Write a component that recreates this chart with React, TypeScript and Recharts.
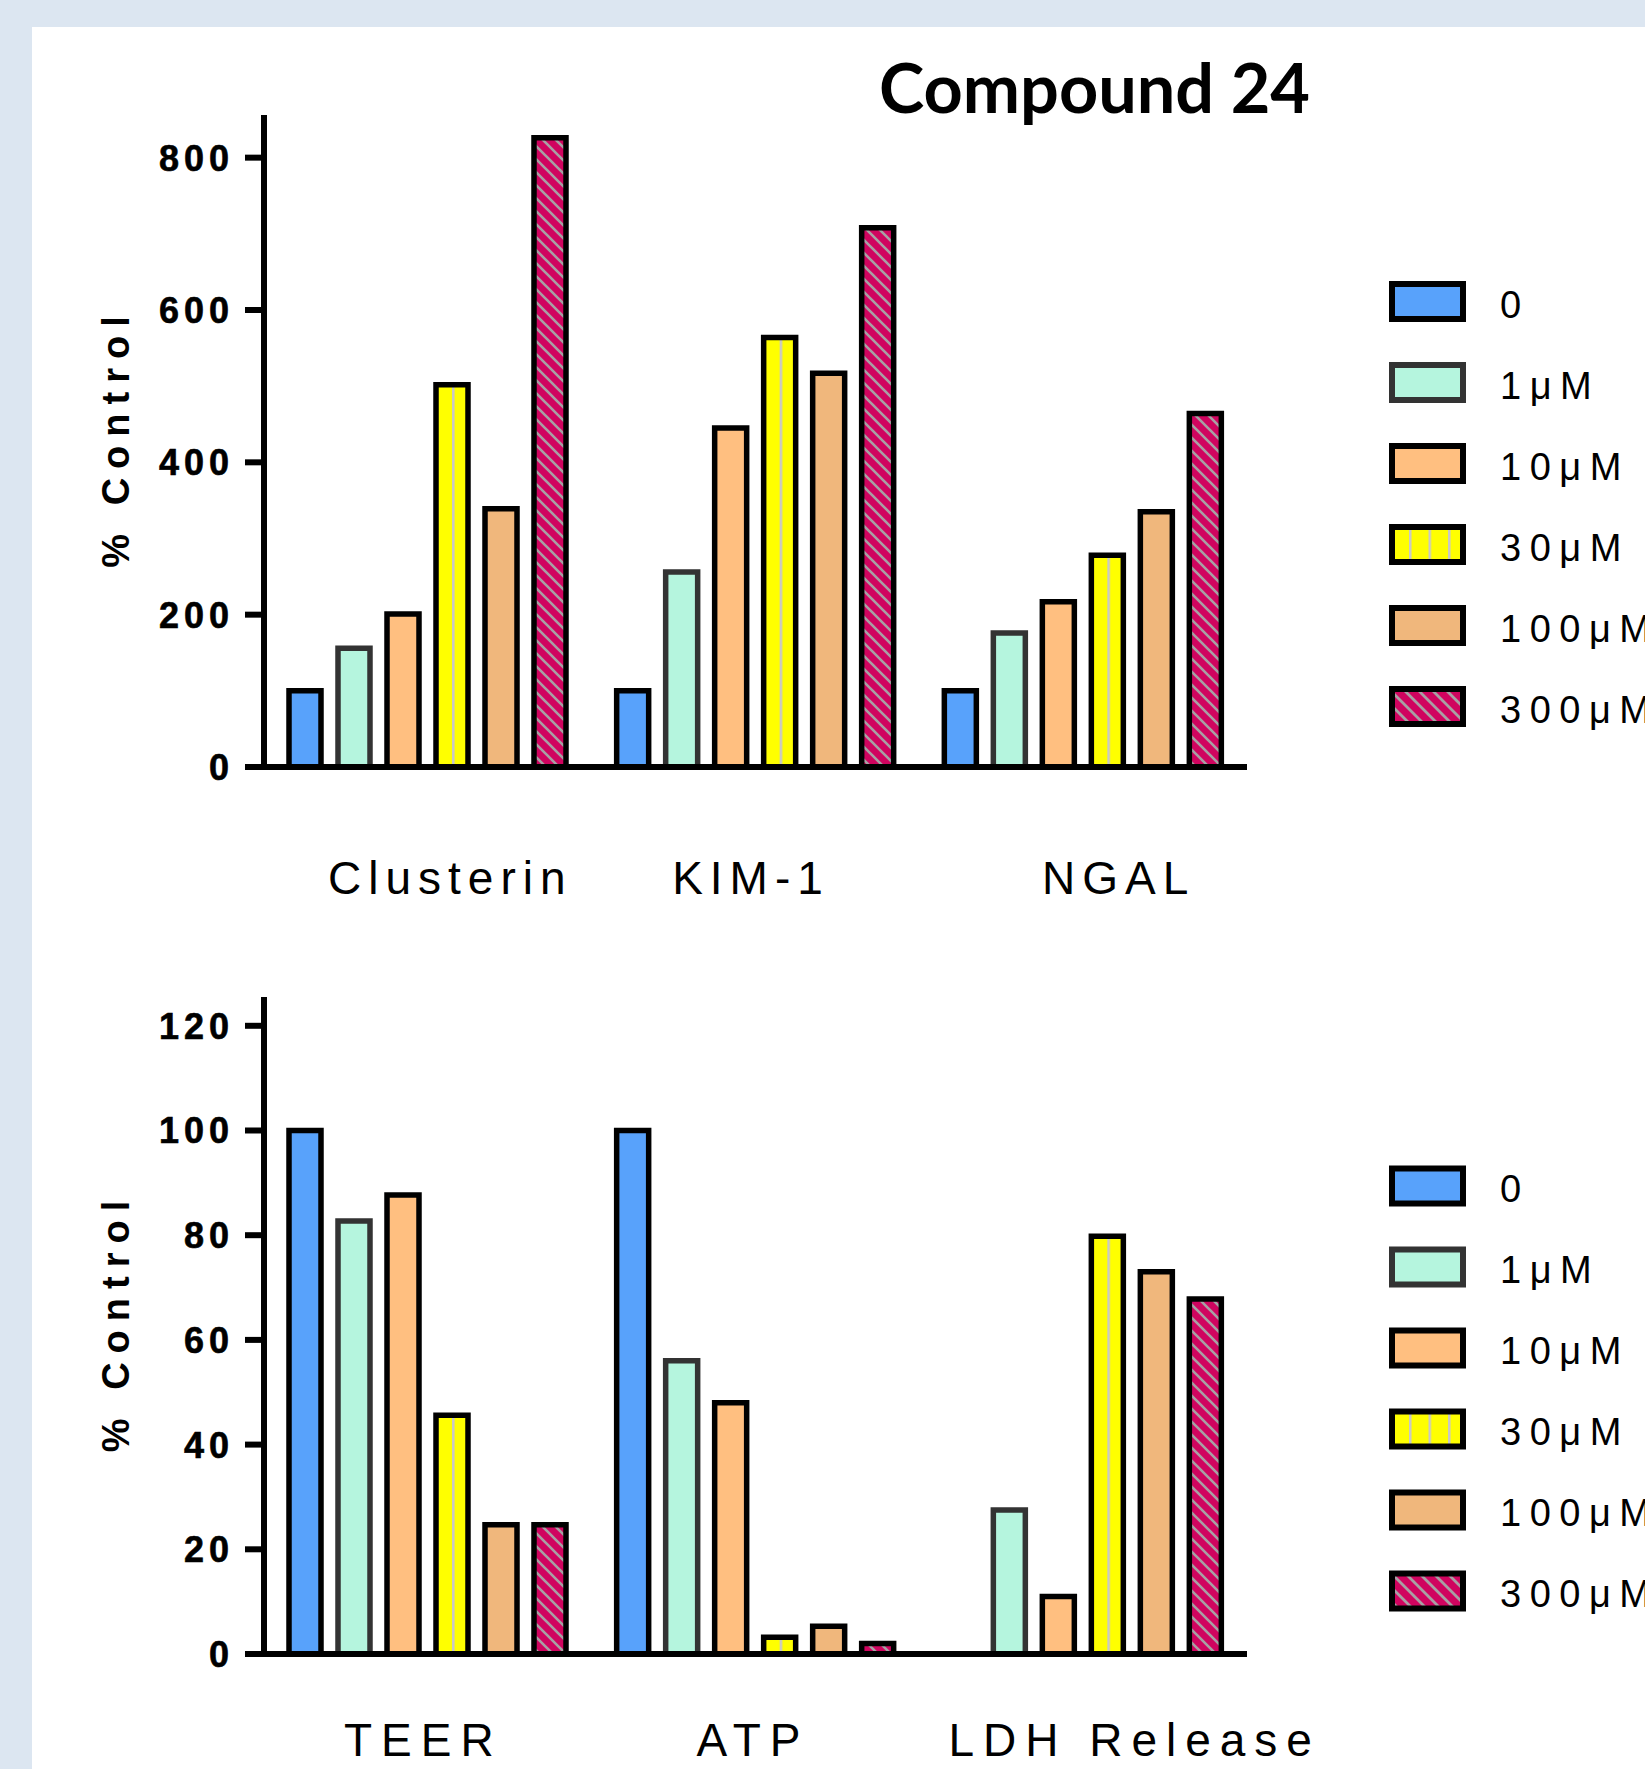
import React from "react";
import { BarChart, Bar, XAxis, YAxis } from "recharts";

// ---------- data ----------
const topCategories = ["Clusterin", "KIM-1", "NGAL"];
const bottomCategories = ["TEER", "ATP", "LDH Release"];
const doseLabels = ["0", "1\u03BCM", "10\u03BCM", "30\u03BCM", "100\u03BCM", "300\u03BCM"];
const doseKeys = ["d0", "d1", "d10", "d30", "d100", "d300"];

const top0 = [100, 100, 100];
const top1 = [156, 256, 176];
const top10 = [201, 445, 217];
const top30 = [502, 564, 278];
const top100 = [339, 517, 335];
const top300 = [826, 708, 464];

const bot0 = [100, 100, null];
const bot1 = [82.7, 56, 27.5];
const bot10 = [87.7, 48, 11];
const bot30 = [45.6, 3.2, 79.8];
const bot100 = [24.7, 5.3, 73];
const bot300 = [24.7, 2, 67.8];

const topTicks = [0, 200, 400, 600, 800];
const bottomTicks = [0, 20, 40, 60, 80, 100, 120];

const title = "Compound 24";
const yTitle = "% Control";

// ---------- build rows ----------
const buildRows = (cats: string[], series: (number | null)[][]) =>
  cats.map((c, i) => {
    const row: any = { cat: c };
    doseKeys.forEach((k, j) => {
      row[k] = series[j][i];
    });
    return row;
  });

const topData = buildRows(topCategories, [top0, top1, top10, top30, top100, top300]);
const bottomData = buildRows(bottomCategories, [bot0, bot1, bot10, bot30, bot100, bot300]);

// ---------- styles ----------
const seriesStyle = [
  { fill: "#58A2FB", stroke: "#000000", legendFill: "#58A2FB" },
  { fill: "#B5F5DE", stroke: "#333333", legendFill: "#B5F5DE" },
  { fill: "#FFBF80", stroke: "#000000", legendFill: "#FFBF80" },
  { fill: "url(#vstripeBar)", stroke: "#000000", legendFill: "url(#vstripeLegend)" },
  { fill: "#F0B77C", stroke: "#000000", legendFill: "#F0B77C" },
  { fill: "url(#dstripeBar)", stroke: "#000000", legendFill: "url(#dstripeLegend)" },
];

const SANS = "'Liberation Sans', Arial, sans-serif";

// label nudges (layout only)
const labelNudge: Record<string, number> = {
  Clusterin: 19,
  "KIM-1": -8,
  NGAL: 32,
  TEER: -9,
  ATP: -7,
  "LDH Release": 47,
};

const YTick = (props: any) => {
  const { x, y, payload } = props;
  const ls = 5;
  return (
    <text
      x={x + ls}
      y={y + 13}
      textAnchor="end"
      fontFamily={SANS}
      fontWeight="bold"
      fontSize={36}
      letterSpacing={ls}
      fill="#000"
      stroke="#000"
      strokeWidth={0.6}
    >
      {payload.value}
    </text>
  );
};

const makeXTick = (baseline: number, ls: number) => (props: any) => {
  const { x, y, payload } = props;
  const nudge = labelNudge[payload.value] || 0;
  return (
    <text
      x={x + nudge + ls / 2}
      y={y + baseline}
      textAnchor="middle"
      fontFamily={SANS}
      fontSize={46}
      letterSpacing={ls}
      fill="#000"
    >
      {payload.value}
    </text>
  );
};

const makeYLabel = () => (props: any) => {
  const vb = props.viewBox || { x: 114, y: 0, width: 150, height: 0 };
  const cx = (vb.x ?? 114) + 1;
  const cy = (vb.y ?? 0) + (vb.height ?? 0) / 2 + 1;
  return (
    <text
      transform={`translate(${cx},${cy}) rotate(-90)`}
      x={4.5}
      y={14}
      textAnchor="middle"
      fontFamily={SANS}
      fontWeight="bold"
      fontSize={38}
      letterSpacing={9}
      fill="#000"
    >
      {yTitle}
    </text>
  );
};

type PanelProps = {
  data: any[];
  domainMax: number;
  ticks: number[];
  top: number;
  height: number;
  marginTop: number;
  xAxisHeight: number;
  labelBaseline: number;
  labelSpacing: number;
};

const Panel = ({ data, domainMax, ticks, top, height, marginTop, xAxisHeight, labelBaseline, labelSpacing }: PanelProps) => (
  <div style={{ position: "absolute", left: 0, top }}>
    <BarChart
      width={1645}
      height={height}
      data={data}
      margin={{ top: marginTop, right: 398, left: 114, bottom: 0 }}
      barSize={32}
      barGap={17}
    >
      <XAxis
        dataKey="cat"
        type="category"
        interval={0}
        height={xAxisHeight}
        axisLine={{ stroke: "#000", strokeWidth: 6 }}
        tickLine={false}
        tickSize={0}
        tickMargin={0}
        tick={makeXTick(labelBaseline, labelSpacing)}
      />
      <YAxis
        type="number"
        domain={[0, domainMax]}
        ticks={ticks}
        interval={0}
        width={150}
        axisLine={{ stroke: "#000", strokeWidth: 6 }}
        tickLine={{ stroke: "#000", strokeWidth: 6 }}
        tickSize={19}
        tickMargin={16}
        tick={YTick}
        label={makeYLabel()}
      />
      {doseKeys.map((k, i) => (
        <Bar
          key={k}
          dataKey={k}
          name={doseLabels[i]}
          fill={seriesStyle[i].fill}
          stroke={seriesStyle[i].stroke}
          strokeWidth={5.5}
          isAnimationActive={false}
        />
      ))}
    </BarChart>
  </div>
);

const LegendBlock = ({ y0 }: { y0: number }) => (
  <g>
    {doseLabels.map((lab, i) => {
      const cy = y0 + i * 81;
      return (
        <g key={lab}>
          <rect
            x={1392}
            y={cy - 17.5}
            width={71}
            height={35}
            fill={seriesStyle[i].legendFill}
            stroke={seriesStyle[i].stroke}
            strokeWidth={6}
          />
          <text x={1500} y={cy + 16} fontFamily={SANS} fontSize={38} letterSpacing={8.5} fill="#000">
            {lab}
          </text>
        </g>
      );
    })}
  </g>
);

export default function App() {
  return (
    <div
      style={{
        position: "absolute",
        left: 0,
        top: 0,
        width: 1645,
        height: 1769,
        background: "#DCE6F1",
        overflow: "hidden",
      }}
    >
      <div style={{ position: "absolute", left: 32, top: 27, right: 0, bottom: 0, background: "#FFFFFF" }} />
      <Panel
        data={topData}
        domainMax={856}
        ticks={topTicks}
        top={0}
        height={940}
        marginTop={115}
        xAxisHeight={173}
        labelBaseline={127}
        labelSpacing={7}
      />
      <Panel
        data={bottomData}
        domainMax={125.5}
        ticks={bottomTicks}
        top={880}
        height={889}
        marginTop={117}
        xAxisHeight={115}
        labelBaseline={102}
        labelSpacing={9}
      />
      <svg
        width={1645}
        height={1769}
        style={{ position: "absolute", left: 0, top: 0, pointerEvents: "none" }}
      >
        <defs>
          <pattern id="vstripeBar" patternUnits="objectBoundingBox" patternContentUnits="objectBoundingBox" x="0" y="0" width="1" height="1">
            <rect x="0" y="0" width="1" height="1" fill="#FFFF00" />
            <rect x="0.5" y="0" width="0.08" height="1" fill="#C8C8C8" />
          </pattern>
          <pattern id="vstripeLegend" patternUnits="userSpaceOnUse" x="1409" y="0" width="19.5" height="10">
            <rect x="0" y="0" width="19.5" height="10" fill="#FFFF00" />
            <rect x="0" y="0" width="2.5" height="10" fill="#C8C8C8" />
          </pattern>
          <pattern id="dstripeBar" patternUnits="userSpaceOnUse" x="0" y="0" width="13" height="13">
            <rect x="0" y="0" width="13" height="13" fill="#D0045F" />
            <path d="M-3,-3 L16,16 M-3,10 L3,16 M10,-3 L16,3" stroke="#A8A0A4" strokeWidth="2.6" />
          </pattern>
          <pattern id="dstripeLegend" patternUnits="userSpaceOnUse" x="0" y="0" width="14" height="14">
            <rect x="0" y="0" width="14" height="14" fill="#D0045F" />
            <path d="M-3,-3 L17,17 M-3,11 L3,17 M11,-3 L17,3" stroke="#A8A0A4" strokeWidth="2.8" />
          </pattern>
        </defs>
        <text
          x={879}
          y={113}
          fontFamily="Lato, 'Open Sans', sans-serif"
          fontWeight={700}
          fontSize={68}
          textLength={431}
          lengthAdjust="spacingAndGlyphs"
          fill="#000"
        >
          {title}
        </text>
        <LegendBlock y0={301.5} />
        <LegendBlock y0={1186} />
      </svg>
    </div>
  );
}
